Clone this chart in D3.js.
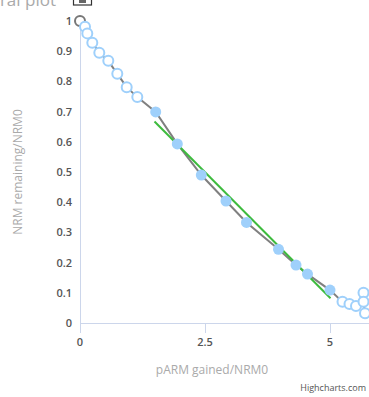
<!DOCTYPE html>
<html><head><meta charset="utf-8">
<script src="https://cdn.jsdelivr.net/npm/d3@7/dist/d3.min.js"></script>
<style>body{margin:0;background:#fff;overflow:hidden}svg{display:block;font-family:"Open Sans",sans-serif}</style>
</head><body>
<svg id="c" width="369" height="397"></svg>
<script>
// series: all steps (connected by gray line)
const stepX = [0, 0.10, 0.146, 0.246, 0.386, 0.566, 0.746, 0.934, 1.146, 1.514, 1.946, 2.426, 2.92, 3.33, 3.97, 4.32, 4.55, 5.0, 5.25, 5.39, 5.52, 5.67, 5.67, 5.70];
const stepY = [1.0, 0.981, 0.959, 0.928, 0.895, 0.868, 0.825, 0.781, 0.748, 0.699, 0.593, 0.49, 0.404, 0.333, 0.244, 0.192, 0.162, 0.109, 0.070, 0.063, 0.056, 0.100, 0.070, 0.032];
// marker type: "origin", "open" (not used in fit), "fit" (filled)
const stepType = ["origin","open","open","open","open","open","open","open","open","fit","fit","fit","fit","fit","fit","fit","fit","fit","open","open","open","open","open","open"];
const fitX = [1.49, 5.01];
const fitY = [0.667, 0.082];
const xTicks = [0, 2.5, 5];
const yTicks = [0, 0.1, 0.2, 0.3, 0.4, 0.5, 0.6, 0.7, 0.8, 0.9, 1];
const title = "Natural plot";
const xTitle = "pARM gained/NRM0";
const yTitle = "NRM remaining/NRM0";

const svg = d3.select("#c");
const x = d3.scaleLinear().domain([0, 5.8]).range([80, 370]);
const y = d3.scaleLinear().domain([0, 1]).range([323, 21]);

// title (cropped at top, as in the reference)
svg.append("text").attr("x", 56).attr("y", 6).attr("text-anchor","end")
  .attr("fill","#aaa").attr("font-size",17).text(title);
// export button
const g0 = svg.append("g");
g0.append("rect").attr("x",73.5).attr("y",-5).attr("width",18).attr("height",10).attr("fill","#fff").attr("stroke","#333").attr("stroke-width",1.2);
g0.append("rect").attr("x",79).attr("y",0).attr("width",7).attr("height",3).attr("fill","#666");

// axes lines
svg.append("line").attr("x1",80.5).attr("x2",80.5).attr("y1",21).attr("y2",323).attr("stroke","#ccd6eb");
svg.append("line").attr("x1",80).attr("x2",369).attr("y1",323.5).attr("y2",323.5).attr("stroke","#ccd6eb");

// x ticks
xTicks.forEach(t => {
  svg.append("line").attr("x1",Math.round(x(t))+0.5).attr("x2",Math.round(x(t))+0.5).attr("y1",323).attr("y2",333).attr("stroke","#ccd6eb");
  svg.append("text").attr("x",x(t)).attr("y",346).attr("text-anchor","middle")
    .attr("fill","#555").attr("font-size",11).attr("font-weight","600").text(d3.format("")(t));
});
// y tick labels
yTicks.forEach(t => {
  svg.append("text").attr("x",72).attr("y",y(t)+4).attr("text-anchor","end")
    .attr("fill","#555").attr("font-size",11).attr("font-weight","600").text(d3.format("")(t));
});

// axis titles
svg.append("text").attr("x",212).attr("y",374).attr("text-anchor","middle")
  .attr("fill","#aaa").attr("font-size",12).text(xTitle);
svg.append("text").attr("transform","translate(22,172) rotate(-90)").attr("text-anchor","middle")
  .attr("fill","#aaa").attr("font-size",12).text(yTitle);

// credits
svg.append("text").attr("x",366).attr("y",391).attr("text-anchor","end")
  .attr("fill","#555").attr("font-size",9).text("Highcharts.com");

// gray connecting line
const pts = stepX.map((v,i)=>[v, stepY[i], stepType[i]]);
svg.append("path").datum(pts)
  .attr("d", d3.line().x(d=>x(d[0])).y(d=>y(d[1])))
  .attr("fill","none").attr("stroke","#808080").attr("stroke-width",2);

// fit line
svg.append("path").datum(fitX.map((v,i)=>[v,fitY[i]]))
  .attr("d", d3.line().x(d=>x(d[0])).y(d=>y(d[1])))
  .attr("fill","none").attr("stroke","#3dbb3d").attr("stroke-width",2);

// markers
svg.selectAll("circle.m").data(pts).join("circle")
  .attr("cx",d=>x(d[0])).attr("cy",d=>y(d[1])).attr("r",d=>d[2]==="fit" ? 5.5 : 5)
  .attr("fill",d=>d[2]==="fit" ? "#9fd0fb" : "#fff")
  .attr("stroke",d=>d[2]==="origin" ? "#777" : (d[2]==="fit" ? "none" : "#9fd0fb"))
  .attr("stroke-width",2);
</script>
</body></html>
